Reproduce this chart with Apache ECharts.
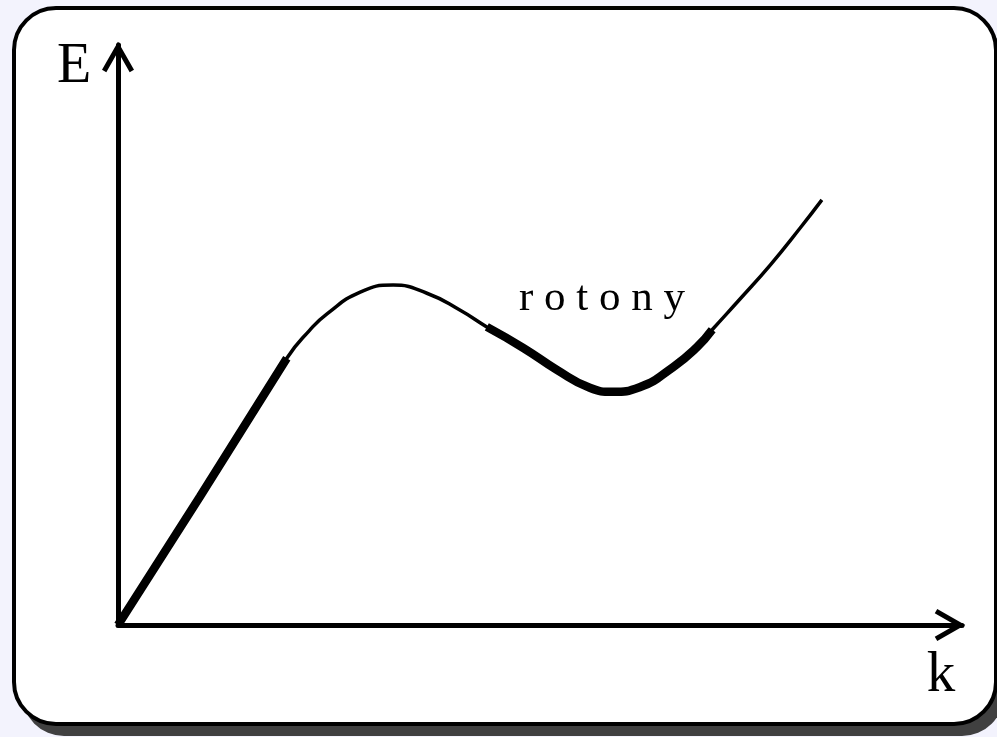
<!DOCTYPE html>
<html>
<head>
<meta charset="utf-8">
<title>E(k)</title>
<script src="https://cdn.jsdelivr.net/npm/echarts@6/dist/echarts.min.js"></script>
<style>
  html, body { margin: 0; padding: 0; background: #f3f3fd; }
  #chart { width: 997px; height: 737px; }
</style>
</head>
<body>
<div id="chart"></div>
<script>
// Dispersion curve E(k), split into its four stretches.
// Linear (phonon) part from the origin
const phononK = [0, 0.97, 2.00];
const phononE = [0, 2.21, 4.60];
// Rise over the maximum
const maxonK = [2.00, 2.27, 2.48, 2.87, 3.26, 3.66, 4.05, 4.37];
const maxonE = [4.60, 5.08, 5.37, 5.74, 5.86, 5.72, 5.43, 5.14];
// Roton dip around the minimum
const rotonK = [4.37, 4.80, 5.20, 5.59, 5.86, 6.18, 6.58, 6.86, 7.04];
const rotonE = [5.14, 4.78, 4.40, 4.09, 4.02, 4.10, 4.45, 4.79, 5.09];
// Rising tail
const tailK = [7.04, 7.37, 7.73, 8.08, 8.34];
const tailE = [5.09, 5.62, 6.21, 6.84, 7.33];

const axisNames = { energy: 'E', momentum: 'k' };
const curveLabel = 'r o t o n y';

const pairs = (ks, es) => ks.map((k, i) => [k, es[i]]);
const fullCurve = pairs(phononK, phononE)
  .concat(pairs(maxonK, maxonE).slice(1))
  .concat(pairs(rotonK, rotonE).slice(1))
  .concat(pairs(tailK, tailE).slice(1));

// Open chevron arrowhead, pointing up, filled as a thick outline
const chevron = 'path://M16 0 L32 28 L27.7 30.5 L16 10 L4.3 30.5 L0 28 Z';

const axisCommon = {
  type: 'value',
  min: 0,
  max: 10,
  splitLine: { show: false },
  axisTick: { show: false },
  axisLabel: { show: false },
  axisLine: {
    show: true,
    onZero: false,
    symbol: ['none', chevron],
    symbolSize: [32, 30.5],
    symbolOffset: [0, -12],
    lineStyle: { color: '#000', width: 5 }
  }
};

const serif = '"Liberation Serif", "DejaVu Serif", serif';

const chart = echarts.init(document.getElementById('chart'), null, { renderer: 'canvas' });
chart.setOption({
  animation: false,
  backgroundColor: '#f3f3fd',
  grid: { left: 118, right: 35, top: 45, bottom: 112 },
  xAxis: Object.assign({}, axisCommon),
  yAxis: Object.assign({}, axisCommon),
  graphic: [
    {
      type: 'rect', z: -20, silent: true,
      shape: { x: 22, y: 20, width: 982, height: 716, r: 42 },
      style: { fill: '#404040' }
    },
    {
      type: 'rect', z: -10, silent: true,
      shape: { x: 14, y: 8, width: 982, height: 716, r: 42 },
      style: { fill: '#ffffff', stroke: '#000000', lineWidth: 4 }
    },
    {
      type: 'text', z: 10, silent: true, x: 74, y: 67,
      style: { text: axisNames.energy, font: '56px ' + serif, fill: '#000', align: 'center', verticalAlign: 'middle' }
    },
    {
      type: 'text', z: 10, silent: true, x: 941, y: 676,
      style: { text: axisNames.momentum, font: '57px ' + serif, fill: '#000', align: 'center', verticalAlign: 'middle' }
    },
    {
      type: 'text', z: 10, silent: true, x: 602, y: 299,
      style: { text: curveLabel, font: '43px ' + serif, fill: '#000', align: 'center', verticalAlign: 'middle' }
    }
  ],
  series: [
    {
      type: 'line', data: fullCurve, smooth: 0.5,
      showSymbol: false, symbol: 'none', silent: true, z: 2,
      lineStyle: { color: '#000', width: 3.5, cap: 'butt' }
    },
    {
      type: 'line', data: pairs(phononK, phononE), smooth: false,
      showSymbol: false, symbol: 'none', silent: true, z: 3,
      lineStyle: { color: '#000', width: 8.5, cap: 'butt' }
    },
    {
      type: 'line', data: pairs(rotonK, rotonE), smooth: 0.5,
      showSymbol: false, symbol: 'none', silent: true, z: 3,
      lineStyle: { color: '#000', width: 8.5, cap: 'butt' }
    }
  ]
});
</script>
</body>
</html>
